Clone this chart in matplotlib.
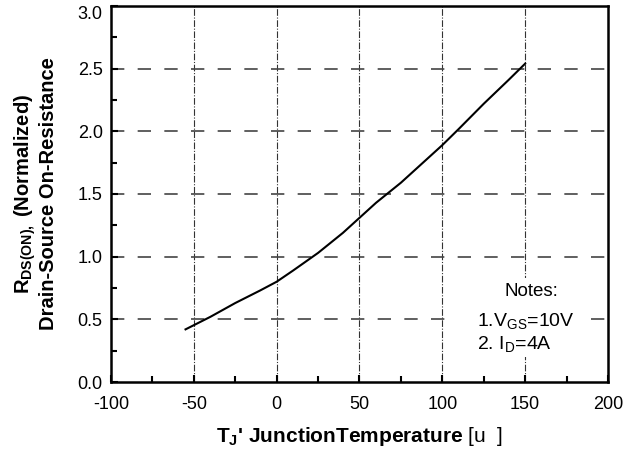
import matplotlib

matplotlib.use("Agg")
import matplotlib.pyplot as plt
from matplotlib.patches import Rectangle
from matplotlib.ticker import MultipleLocator

plt.rcParams["font.family"] = ["Liberation Sans", "DejaVu Sans"]
plt.rcParams["mathtext.fontset"] = "custom"
plt.rcParams["mathtext.rm"] = "Liberation Sans"
plt.rcParams["mathtext.it"] = "Liberation Sans"
plt.rcParams["mathtext.bf"] = "Liberation Sans:bold"
plt.rcParams["axes.unicode_minus"] = False

# junction temperature (degC) vs normalized on-resistance
temp_c = [-55, -40, -25, -10, 0, 10, 25, 40, 50, 60, 75, 90, 100, 110, 125, 140, 150]
rds_norm = [0.42, 0.52, 0.63, 0.73, 0.80, 0.89, 1.03, 1.19, 1.31, 1.43, 1.59,
            1.77, 1.89, 2.02, 2.22, 2.41, 2.54]

x_grid = [-50, 0, 50, 100, 150]
y_grid = [0.5, 1.0, 1.5, 2.0, 2.5]
x_ticks = [-100, -50, 0, 50, 100, 150, 200]
y_ticks = [0.0, 0.5, 1.0, 1.5, 2.0, 2.5, 3.0]

fig = plt.figure(figsize=(6.4, 4.57), dpi=100)
ax = fig.add_axes([0.1734, 0.1641, 0.7766, 0.8228])

for xv in x_grid:
    ax.axvline(xv, color="#333333", lw=0.8, dashes=(6, 1.5, 1, 1.5), zorder=1)
for yv in y_grid:
    ax.axhline(yv, color="#444444", lw=1.2, dashes=(8, 8), dash_capstyle="butt", zorder=1)

ax.plot(temp_c, rds_norm, color="black", lw=1.5, zorder=3)

# white patch behind the notes, hides the grid there
ax.add_patch(Rectangle((108, 0.2), 78, 0.63, facecolor="white", edgecolor="none", zorder=2))
ax.text(154, 0.72, "Notes:", ha="center", va="center", fontsize=13.5, zorder=4)
ax.text(121, 0.49, r"1.V$_{\mathrm{GS}}$=10V", ha="left", va="center", fontsize=14, zorder=4)
ax.text(121, 0.30, r"2. I$_{\mathrm{D}}$=4A", ha="left", va="center", fontsize=14, zorder=4)

ax.set_xlim(-100, 200)
ax.set_ylim(0, 3.0)
ax.set_xticks(x_ticks)
ax.set_yticks(y_ticks)
ax.set_yticklabels([f"{v:.1f}" for v in y_ticks])
ax.get_yticklabels()[-1].set_va("top")
ax.xaxis.set_minor_locator(MultipleLocator(25))
ax.yaxis.set_minor_locator(MultipleLocator(0.25))
ax.tick_params(which="both", direction="in", top=False, right=False, width=1.5, labelsize=13)
ax.tick_params(which="major", length=5)
ax.tick_params(which="minor", length=4)
ax.tick_params(axis="x", pad=10)
ax.tick_params(axis="y", pad=6)
for sp in ax.spines.values():
    sp.set_linewidth(1.8)

ax.set_xlabel(r"T$_\mathbf{J}$' JunctionTemperature $\mathrm{[u\ \ ]}$",
              fontsize=15, fontweight="bold", labelpad=9)
ax.set_ylabel("R$_\\mathbf{DS(ON),}$ (Normalized)\nDrain-Source On-Resistance",
              fontsize=14.5, fontweight="bold", linespacing=1.1)
ax.yaxis.set_label_coords(-0.106, 0.5)

fig.savefig("out.png", dpi=100)
